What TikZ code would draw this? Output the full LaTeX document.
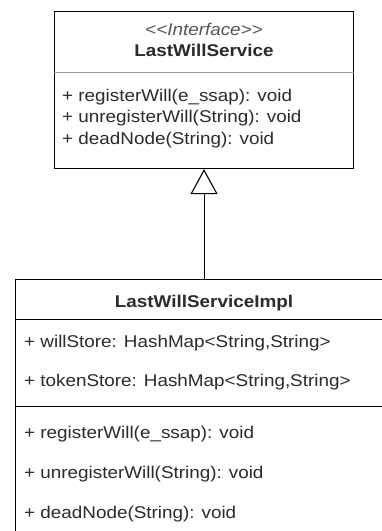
\documentclass[tikz,border=0pt]{standalone}
\usepackage{fontspec}
\setmainfont{Liberation Sans}[FakeStretch=1.11]
\usetikzlibrary{arrows.meta}
\definecolor{txt}{HTML}{2B2B2B}
\definecolor{sttxt}{HTML}{555555}
\definecolor{sep}{HTML}{999999}
\tikzset{
  box/.style={draw=black, line width=1.1pt, rectangle, inner sep=0pt, fill=white},
  lbl/.style={anchor=base west, inner sep=0pt, text=txt, font=\fontsize{17}{20}\selectfont},
  ttl/.style={anchor=base, inner sep=0pt, text=txt, font=\fontsize{17}{20}\selectfont\bfseries},
  stereo/.style={anchor=base, inner sep=0pt, text=sttxt, font=\fontsize{17}{20}\selectfont\itshape},
  sepline/.style={line width=0.8pt},
  inherit/.style={draw=black, line width=1.1pt, -{Triangle[open, length=25pt, width=27pt, line width=1.1pt]}}
}
\begin{document}
\begin{tikzpicture}[x=1pt, y=-1pt]
\useasboundingbox (0,0) rectangle (382,531);
\fill[white] (0,0) rectangle (382,531);
\clip (0,0) rectangle (382,531);
% interface box
\node[box, anchor=north west, minimum width=299pt, minimum height=157pt] (iface) at (54,11) {};
\coordinate (s1) at (0,72);
\draw[sepline, draw=sep] (iface.west |- s1) -- (iface.east |- s1);
\node[stereo] (st) at (204,35) {<{}<Interface>{}>};
\node[ttl] (t1) at (204,56.7) {LastWillService};
\node[lbl] (m1) at (62,101) {+ registerWill(e\_ssap): void};
\node[lbl] (m2) at (62,122.5) {+ unregisterWill(String): void};
\node[lbl] (m3) at (62,144) {+ deadNode(String): void};
% impl box
\node[box, anchor=north west, minimum width=383pt, minimum height=300pt] (impl) at (15,278.5) {};
\coordinate (s2) at (0,319.5);
\coordinate (s3) at (0,406.5);
\draw[sepline] (impl.west |- s2) -- (impl.east |- s2);
\draw[sepline] (impl.west |- s3) -- (impl.east |- s3);
\node[ttl] (t2) at (204,307) {LastWillServiceImpl};
\node[lbl] (a1) at (24,347) {+ willStore: HashMap<String,String>};
\node[lbl] (a2) at (24,386) {+ tokenStore: HashMap<String,String>};
\node[lbl] (n1) at (24,438.5) {+ registerWill(e\_ssap): void};
\node[lbl] (n2) at (24,478.5) {+ unregisterWill(String): void};
\node[lbl] (n3) at (24,518.5) {+ deadNode(String): void};
% generalization
\draw[inherit] (iface.south |- impl.north) -- (iface.south);
\end{tikzpicture}
\end{document}
